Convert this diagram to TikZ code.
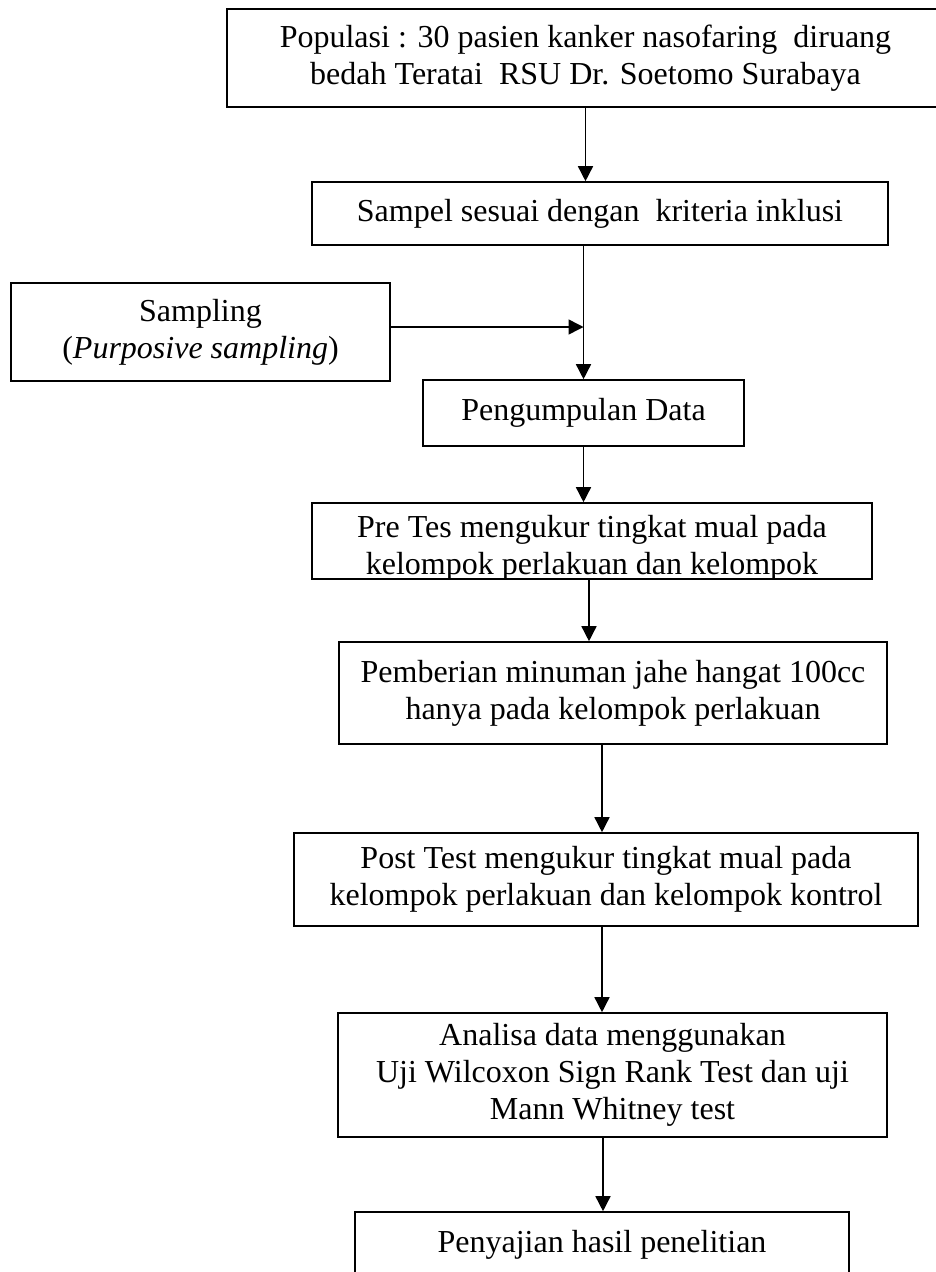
\documentclass[tikz,border=0pt]{standalone}
\usepackage{fontspec}
\setmainfont{Liberation Serif}
\usetikzlibrary{arrows.meta}
\tikzset{
box/.style={draw, line width=1.6pt, align=center, inner sep=0pt, font=\fontsize{32}{37}\selectfont},
flow/.style={line width=1.5pt, -{Triangle[length=15pt, width=15pt]}}}

\begin{document}
\begin{tikzpicture}[x=1pt, y=-1pt]
    \useasboundingbox (0,0) rectangle (936,1272);

                \node[box, minimum width=717pt, minimum height=98pt] (A) at (585.5,58) {Populasi : 30 pasien kanker nasofaring\ \ diruang\\bedah Teratai\ \ RSU Dr. Soetomo Surabaya};
                \node[box, minimum width=576pt, minimum height=63pt] (B) at (600,213.5) {Sampel sesuai dengan\ \ kriteria inklusi};
                \node[box, minimum width=379pt, minimum height=98pt] (C) at (200.5,332) {Sampling\\(\textit{Purposive sampling})};
                \node[box, minimum width=321pt, minimum height=66pt] (D) at (583.5,413) {Pengumpulan Data};
                \node[box, minimum width=560pt, minimum height=76pt, path picture={\node[draw=none, inner sep=0pt, align=center, font=\fontsize{32}{37}\selectfont] at ([yshift=-7.5pt]path picture bounding box.center) {Pre Tes mengukur tingkat mual pada\\kelompok perlakuan dan kelompok};}] (E) at (592,541) {};
                \node[box, minimum width=548pt, minimum height=102pt] (F) at (613,693) {Pemberian minuman jahe hangat 100cc\\hanya pada kelompok perlakuan};
                \node[box, minimum width=624pt, minimum height=93pt] (G) at (606,879.5) {Post Test mengukur tingkat mual pada\\kelompok perlakuan dan kelompok kontrol};
                \node[box, minimum width=549pt, minimum height=124pt] (H) at (612.5,1075) {Analisa data menggunakan\\Uji Wilcoxon Sign Rank Test dan uji\\Mann Whitney test};
                \node[box, minimum width=494pt, minimum height=66pt] (I) at (602,1245) {Penyajian hasil penelitian};

                \draw[flow] (A.south) -- (A.south |- B.north);
                \draw[flow] (B.south -| D.north) -- (D.north);
                \draw[flow] ([yshift=5pt]C.east) coordinate (c1) -- (c1 -| D.north);
                \draw[flow] (D.south) -- (D.south |- E.north);
                \draw[flow] ([xshift=-3pt]E.south) coordinate (e1) -- (e1 |- F.north);
                \draw[flow] ([xshift=-11pt]F.south) coordinate (f1) -- (f1 |- G.north);
                \draw[flow] ([xshift=-4pt]G.south) coordinate (g1) -- (g1 |- H.north);
                \draw[flow] ([xshift=-9.5pt]H.south) coordinate (h1) -- (h1 |- I.north);

            \end{tikzpicture}
\end{document}
